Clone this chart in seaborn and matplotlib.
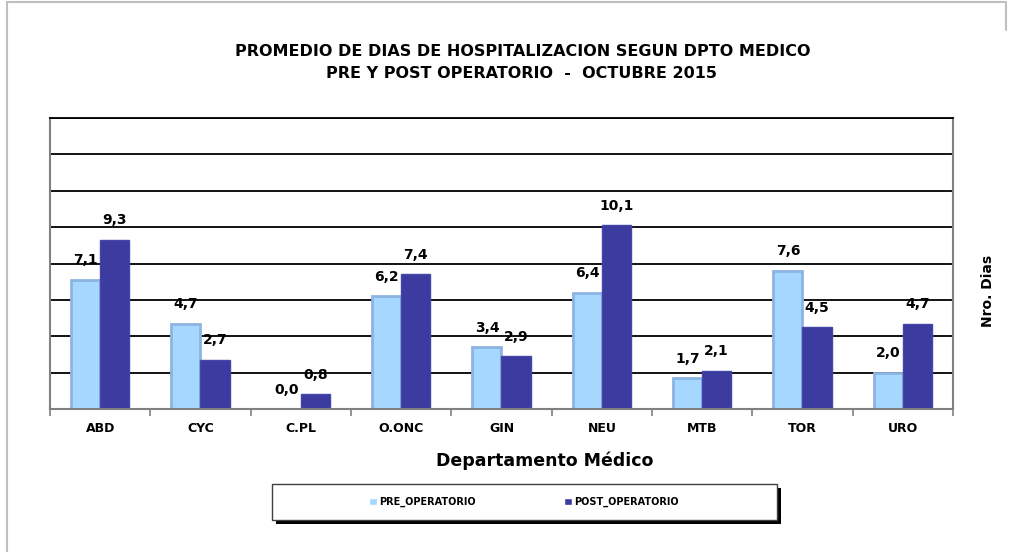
import numpy as np
import pandas as pd
import matplotlib.pyplot as plt
import seaborn as sns
from matplotlib.patches import Rectangle
from matplotlib.lines import Line2D

departamentos = ["ABD", "CYC", "C.PL", "O.ONC", "GIN", "NEU", "MTB", "TOR", "URO"]
pre_operatorio = [7.1, 4.7, 0.0, 6.2, 3.4, 6.4, 1.7, 7.6, 2.0]
post_operatorio = [9.3, 2.7, 0.8, 7.4, 2.9, 10.1, 2.1, 4.5, 4.7]
series = ["PRE_OPERATORIO", "POST_OPERATORIO"]

df = pd.DataFrame({
    "Departamento": departamentos * 2,
    "Serie": [series[0]] * len(departamentos) + [series[1]] * len(departamentos),
    "Dias": pre_operatorio + post_operatorio,
})

sns.set_style("white")
plt.rcParams["font.family"] = ["DejaVu Sans"]
plt.rcParams["text.color"] = "black"
plt.rcParams["xtick.color"] = "black"
plt.rcParams["xtick.labelcolor"] = "black"

W, H = 1012, 552
fig = plt.figure(figsize=(W / 100, H / 100), dpi=100)
ax = fig.add_axes([50 / W, 1 - 409 / H, 903 / W, 291 / H])

pre_fill, post_fill = "#A6D8FF", "#3C3CA0"
sns.barplot(data=df, x="Departamento", y="Dias", hue="Serie",
            palette=[pre_fill, post_fill], width=0.58, gap=0,
            saturation=1, ax=ax)

handles, labels = ax.get_legend_handles_labels()
ax.get_legend().remove()

edges = ["#8DB3E2", "#4646AA"]
for cont, ec, lw in zip(ax.containers, edges, [2.0, 1.0]):
    for p in cont:
        p.set_edgecolor(ec)
        p.set_linewidth(lw)
    vals = [p.get_height() for p in cont]
    ax.bar_label(cont, labels=[f"{v:.1f}".replace(".", ",") for v in vals],
                 padding=9, fontsize=10, fontweight="bold", color="black")

ax.set_ylim(0, 16)
ax.set_xlim(-0.5, 8.5)
ax.set_yticks(range(0, 17, 2))
ax.yaxis.grid(True, color="black", lw=1.3)
ax.set_axisbelow(True)
ax.tick_params(axis="y", length=0, labelleft=False)
ax.set_xticks(np.arange(-0.5, 9, 1), minor=True)
ax.tick_params(axis="x", which="minor", bottom=True, length=5, color="#808080",
               width=1.2, direction="out")
ax.tick_params(axis="x", which="major", bottom=True, length=0, pad=9, labelsize=9,
               labelcolor="black")
for t in ax.get_xticklabels():
    t.set_fontweight("bold")
ax.set_xlabel("")
ax.set_ylabel("")
for side in ["left", "bottom", "right"]:
    ax.spines[side].set_color("#808080")
    ax.spines[side].set_linewidth(1.5)
ax.spines["top"].set_color("black")
ax.spines["top"].set_linewidth(1.3)

fig.text(523 / W, 1 - 52 / H, "PROMEDIO DE DIAS DE HOSPITALIZACION SEGUN DPTO MEDICO",
         ha="center", va="center", fontsize=11.5, fontweight="bold", color="black")
fig.text(521 / W, 1 - 73 / H, "PRE Y POST OPERATORIO  -  OCTUBRE 2015",
         ha="center", va="center", fontsize=11.5, fontweight="bold", color="black")
fig.text(545 / W, 1 - 461 / H, "Departamento Médico", ha="center", va="center",
         fontsize=12.5, fontweight="bold", color="black")
fig.text(988 / W, 1 - 291 / H, "Nro. Dias", ha="center", va="center",
         rotation=90, fontsize=10, fontweight="bold", color="black")

# legend box with shadow
fig.patches.append(Rectangle((276 / W, 1 - 524 / H), 505 / W, 36 / H,
                             transform=fig.transFigure, facecolor="black",
                             edgecolor="none", zorder=1))
fig.patches.append(Rectangle((272 / W, 1 - 520 / H), 505 / W, 36 / H,
                             transform=fig.transFigure, facecolor="white",
                             edgecolor="#404040", lw=1, zorder=2))
leg = fig.legend(handles, labels, loc="center", bbox_to_anchor=(524 / W, 1 - 502 / H),
                 ncol=2, frameon=False, fontsize=7, handlelength=0.8, handleheight=0.8,
                 handletextpad=0.3, columnspacing=9)
for t in leg.get_texts():
    t.set_fontweight("bold")
    t.set_color("black")
leg.set_zorder(3)

# outer frame
fig.add_artist(Line2D([7 / W, 7 / W], [0, 1 - 2 / H], color="#BFBFBF", lw=1.5))
fig.add_artist(Line2D([7 / W, 1006 / W], [1 - 2 / H, 1 - 2 / H], color="#BFBFBF", lw=1.5))
fig.add_artist(Line2D([1006 / W, 1006 / W], [1 - 2 / H, 1 - 30 / H], color="#BFBFBF", lw=1.5))

fig.savefig("out.png", dpi=100)
